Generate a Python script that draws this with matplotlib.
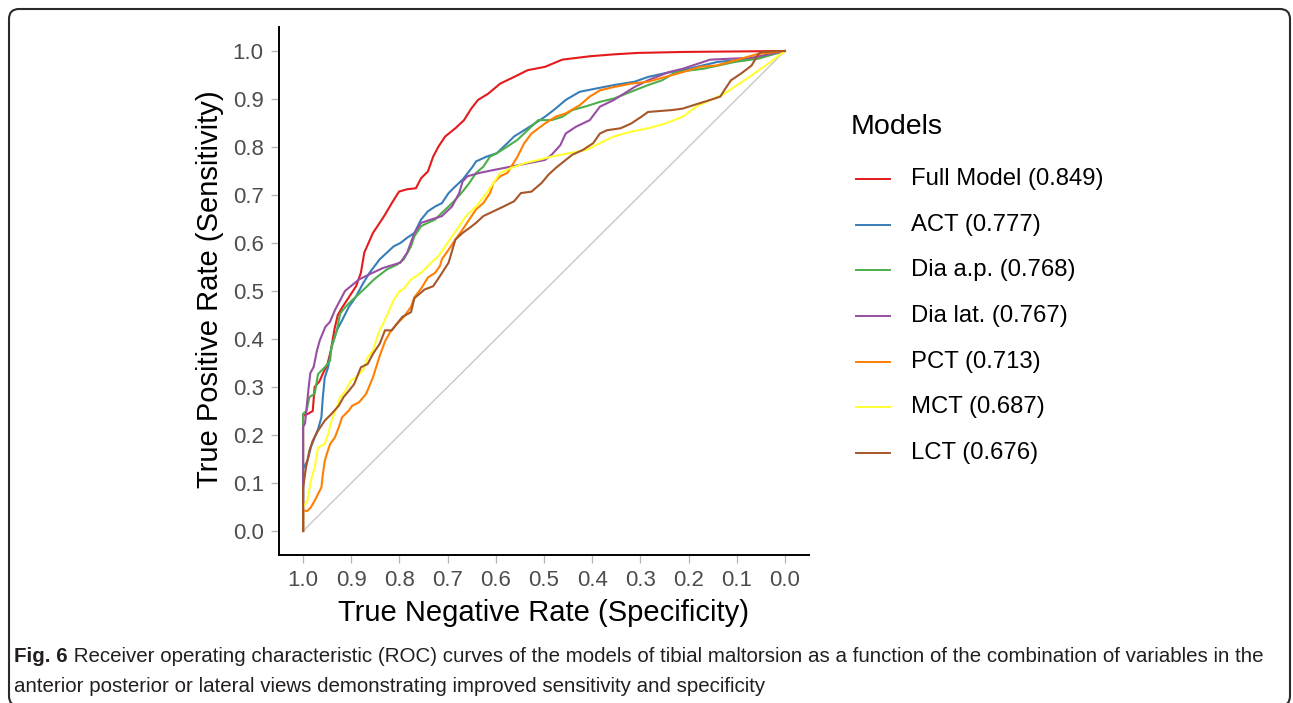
import matplotlib
matplotlib.use("Agg")
import matplotlib.pyplot as plt
from matplotlib.patches import FancyBboxPatch
from matplotlib.lines import Line2D
from matplotlib.transforms import IdentityTransform
from matplotlib import font_manager

# ---------------- data ----------------
models = ["Full Model", "ACT", "Dia a.p.", "Dia lat.", "PCT", "MCT", "LCT"]
aucs = [0.849, 0.777, 0.768, 0.767, 0.713, 0.687, 0.676]
colors = ["#E41A1C", "#377EB8", "#4DAF4A", "#984EA3", "#FF7F00", "#FFFF33", "#A65628"]

full_spec = [1.0, 1.0, 0.990, 0.980, 0.976, 0.966, 0.958, 0.950, 0.942, 0.935, 0.928, 0.918, 0.905, 0.890, 0.880,
             0.873, 0.855, 0.841, 0.830, 0.816, 0.801, 0.784, 0.766, 0.755, 0.741, 0.730, 0.719, 0.705, 0.684, 0.666,
             0.651, 0.637, 0.616, 0.591, 0.562, 0.534, 0.498, 0.462, 0.405, 0.355, 0.305, 0.212, 0.0]
full_sens = [0.0, 0.240, 0.244, 0.250, 0.300, 0.312, 0.330, 0.345, 0.378, 0.420, 0.450, 0.467, 0.487, 0.510, 0.538,
             0.580, 0.621, 0.642, 0.659, 0.683, 0.707, 0.712, 0.714, 0.735, 0.749, 0.780, 0.801, 0.822, 0.839, 0.856,
             0.880, 0.898, 0.911, 0.932, 0.946, 0.960, 0.967, 0.982, 0.989, 0.993, 0.996, 0.998, 1.0]

act_spec = [1.0, 1.0, 0.991, 0.984, 0.976, 0.969, 0.962, 0.959, 0.955, 0.948, 0.941, 0.930, 0.919, 0.905, 0.891,
            0.876, 0.862, 0.841, 0.826, 0.812, 0.798, 0.784, 0.769, 0.755, 0.741, 0.726, 0.712, 0.698, 0.684, 0.669,
            0.648, 0.641, 0.619, 0.598, 0.576, 0.562, 0.541, 0.519, 0.498, 0.476, 0.455, 0.426, 0.391, 0.355, 0.312,
            0.284, 0.248, 0.212, 0.141, 0.069, 0.0]
act_sens = [0.0, 0.130, 0.146, 0.174, 0.195, 0.212, 0.237, 0.279, 0.320, 0.341, 0.383, 0.418, 0.439, 0.467, 0.487,
            0.515, 0.538, 0.566, 0.580, 0.593, 0.600, 0.611, 0.621, 0.649, 0.666, 0.676, 0.683, 0.704, 0.718, 0.732,
            0.759, 0.770, 0.780, 0.787, 0.808, 0.822, 0.835, 0.849, 0.863, 0.880, 0.898, 0.915, 0.922, 0.929, 0.936,
            0.946, 0.954, 0.960, 0.977, 0.984, 1.0]

diaap_spec = [1.0, 1.0, 0.993, 0.987, 0.976, 0.969, 0.955, 0.944, 0.941, 0.930, 0.923, 0.912, 0.898, 0.884, 0.869,
              0.855, 0.848, 0.826, 0.805, 0.791, 0.776, 0.769, 0.755, 0.741, 0.726, 0.712, 0.698, 0.684, 0.669, 0.655,
              0.641, 0.626, 0.612, 0.598, 0.576, 0.555, 0.534, 0.512, 0.484, 0.462, 0.441, 0.412, 0.384, 0.355, 0.312,
              0.284, 0.255, 0.226, 0.169, 0.105, 0.055, 0.0]
diaap_sens = [0.0, 0.244, 0.250, 0.279, 0.286, 0.327, 0.341, 0.355, 0.383, 0.418, 0.453, 0.467, 0.481, 0.494, 0.508,
              0.522, 0.528, 0.545, 0.555, 0.566, 0.593, 0.614, 0.635, 0.642, 0.649, 0.663, 0.676, 0.690, 0.707, 0.725,
              0.746, 0.759, 0.780, 0.787, 0.801, 0.815, 0.835, 0.856, 0.856, 0.863, 0.877, 0.885, 0.894, 0.901, 0.918,
              0.929, 0.939, 0.956, 0.963, 0.977, 0.984, 1.0]

dialat_spec = [1.0, 1.0, 0.996, 0.989, 0.985, 0.978, 0.971, 0.965, 0.954, 0.944, 0.934, 0.923, 0.913, 0.901, 0.884,
               0.862, 0.834, 0.798, 0.784, 0.769, 0.755, 0.734, 0.712, 0.691, 0.676, 0.669, 0.659, 0.634, 0.605, 0.569,
               0.534, 0.498, 0.484, 0.466, 0.455, 0.434, 0.405, 0.384, 0.355, 0.312, 0.284, 0.241, 0.212, 0.155, 0.069,
               0.0]
dialat_sens = [0.0, 0.217, 0.224, 0.294, 0.329, 0.342, 0.377, 0.398, 0.425, 0.436, 0.460, 0.481, 0.500, 0.510, 0.524,
               0.535, 0.548, 0.559, 0.580, 0.621, 0.642, 0.649, 0.656, 0.676, 0.704, 0.728, 0.739, 0.746, 0.752, 0.759,
               0.766, 0.773, 0.784, 0.804, 0.828, 0.842, 0.856, 0.884, 0.898, 0.925, 0.939, 0.956, 0.963, 0.982, 0.986,
               1.0]

pct_spec = [1.0, 1.0, 0.991, 0.984, 0.976, 0.969, 0.962, 0.959, 0.955, 0.951, 0.944, 0.934, 0.926, 0.919, 0.905,
            0.898, 0.884, 0.869, 0.855, 0.841, 0.830, 0.819, 0.805, 0.791, 0.776, 0.769, 0.755, 0.741, 0.726, 0.716,
            0.712, 0.698, 0.684, 0.669, 0.655, 0.641, 0.626, 0.612, 0.605, 0.591, 0.576, 0.555, 0.541, 0.526, 0.498,
            0.476, 0.455, 0.426, 0.405, 0.384, 0.355, 0.319, 0.284, 0.248, 0.212, 0.176, 0.141, 0.098, 0.055, 0.0]
pct_sens = [0.0, 0.042, 0.042, 0.049, 0.063, 0.077, 0.091, 0.118, 0.146, 0.160, 0.181, 0.195, 0.216, 0.237, 0.251,
            0.261, 0.268, 0.286, 0.320, 0.365, 0.395, 0.415, 0.432, 0.446, 0.467, 0.487, 0.505, 0.528, 0.538, 0.552,
            0.566, 0.586, 0.607, 0.628, 0.649, 0.670, 0.683, 0.704, 0.725, 0.739, 0.746, 0.780, 0.808, 0.828, 0.849,
            0.863, 0.870, 0.887, 0.905, 0.918, 0.925, 0.932, 0.936, 0.946, 0.956, 0.967, 0.970, 0.982, 0.994, 1.0]

mct_spec = [1.0, 1.0, 0.991, 0.984, 0.976, 0.969, 0.955, 0.948, 0.941, 0.930, 0.923, 0.912, 0.901, 0.891, 0.876,
            0.866, 0.855, 0.844, 0.834, 0.823, 0.812, 0.801, 0.791, 0.776, 0.755, 0.734, 0.719, 0.705, 0.691, 0.676,
            0.662, 0.641, 0.619, 0.605, 0.591, 0.569, 0.541, 0.512, 0.484, 0.448, 0.412, 0.384, 0.355, 0.319, 0.284,
            0.248, 0.212, 0.184, 0.148, 0.126, 0.084, 0.034, 0.0]
mct_sens = [0.0, 0.050, 0.063, 0.104, 0.132, 0.174, 0.181, 0.202, 0.230, 0.258, 0.279, 0.292, 0.313, 0.320, 0.334,
            0.362, 0.376, 0.411, 0.432, 0.456, 0.481, 0.498, 0.505, 0.524, 0.538, 0.559, 0.573, 0.593, 0.614, 0.635,
            0.656, 0.676, 0.704, 0.725, 0.746, 0.756, 0.766, 0.773, 0.780, 0.787, 0.794, 0.808, 0.822, 0.832, 0.839,
            0.849, 0.863, 0.884, 0.901, 0.911, 0.939, 0.974, 1.0]

lct_spec = [1.0, 1.0, 0.994, 0.987, 0.980, 0.969, 0.955, 0.941, 0.926, 0.916, 0.905, 0.894, 0.880, 0.866, 0.855,
            0.841, 0.830, 0.816, 0.805, 0.794, 0.776, 0.769, 0.748, 0.730, 0.716, 0.698, 0.684, 0.669, 0.655, 0.641,
            0.626, 0.605, 0.584, 0.562, 0.548, 0.526, 0.505, 0.491, 0.476, 0.455, 0.441, 0.419, 0.398, 0.384, 0.369,
            0.341, 0.319, 0.298, 0.284, 0.234, 0.212, 0.184, 0.155, 0.134, 0.126, 0.112, 0.091, 0.069, 0.055, 0.048,
            0.0]
lct_sens = [0.0, 0.090, 0.132, 0.167, 0.188, 0.209, 0.230, 0.244, 0.261, 0.279, 0.292, 0.306, 0.341, 0.348, 0.369,
            0.390, 0.418, 0.418, 0.432, 0.446, 0.456, 0.485, 0.503, 0.510, 0.531, 0.559, 0.607, 0.621, 0.631, 0.642,
            0.656, 0.666, 0.676, 0.687, 0.704, 0.707, 0.725, 0.742, 0.756, 0.773, 0.784, 0.794, 0.808, 0.828, 0.835,
            0.839, 0.849, 0.863, 0.873, 0.877, 0.880, 0.889, 0.898, 0.905, 0.918, 0.939, 0.953, 0.970, 0.994, 0.998,
            1.0]

spec_list = [full_spec, act_spec, diaap_spec, dialat_spec, pct_spec, mct_spec, lct_spec]
sens_list = [full_sens, act_sens, diaap_sens, dialat_sens, pct_sens, mct_sens, lct_sens]

tick_values = [1.0, 0.9, 0.8, 0.7, 0.6, 0.5, 0.4, 0.3, 0.2, 0.1, 0.0]
tick_labels = ["1.0", "0.9", "0.8", "0.7", "0.6", "0.5", "0.4", "0.3", "0.2", "0.1", "0.0"]

caption_bold = "Fig. 6"
caption_line1 = " Receiver operating characteristic (ROC) curves of the models of tibial maltorsion as a function of the combination of variables in the"
caption_line2 = "anterior posterior or lateral views demonstrating improved sensitivity and specificity"

# ---------------- figure ----------------
W, H = 1293, 703
fig = plt.figure(figsize=(W / 100, H / 100), dpi=100)
fig.patch.set_facecolor("white")

main_font = ["Liberation Sans", "DejaVu Sans"]
plt.rcParams["font.family"] = main_font

def fx(px):
    return px / W

def fy(py):
    return 1 - py / H

ax = fig.add_axes([fx(279), fy(555), (809 - 279) / W, (555 - 27) / H])
ax.set_xlim(1.05, -0.05)
ax.set_ylim(-0.05, 1.05)

ax.plot([1.0, 0.0], [0.0, 1.0], color="#c8c8c8", lw=1.0, zorder=1)
for spec, sens, col in zip(spec_list, sens_list, colors):
    ax.plot(spec, sens, color=col, lw=1.5, zorder=2, solid_joinstyle="miter")

ax.set_xticks(tick_values)
ax.set_xticklabels(tick_labels)
ax.set_yticks(tick_values[::-1])
ax.set_yticklabels(tick_labels[::-1])
ax.tick_params(axis="both", length=5.5, width=0.9, color="#b3b3b3", labelsize=16,
               labelcolor="#4d4d4d", pad=5.5)
for side in ["top", "right"]:
    ax.spines[side].set_visible(False)
for side in ["left", "bottom"]:
    ax.spines[side].set_linewidth(1.4)
    ax.spines[side].set_color("black")

ax.set_xlabel("True Negative Rate (Specificity)", fontsize=21, color="black")
ax.set_ylabel("True Positive Rate (Sensitivity)", fontsize=21, color="black")
ax.xaxis.label.set_va("center")
ax.yaxis.label.set_va("center")
ax.xaxis.set_label_coords(0.5, (555 - 613) / 528)
ax.yaxis.set_label_coords((210 - 279) / 530, (555 - 289) / 528)

# ---------------- legend ----------------
fig.text(fx(851), fy(127), "Models", fontsize=20.5, va="center", ha="left", color="black")
row0, dy = 179, 45.67
for i, (name, auc, col) in enumerate(zip(models, aucs, colors)):
    yy = row0 + i * dy
    fig.add_artist(Line2D([fx(856), fx(890)], [fy(yy), fy(yy)], color=col, lw=1.4,
                          transform=fig.transFigure))
    fig.text(fx(911), fy(yy), f"{name} ({auc:.3f})", fontsize=17.2, va="center", ha="left",
             color="black")

# ---------------- caption ----------------
cap_family = ["Liberation Sans"]
try:
    font_manager.findfont("Liberation Sans Narrow", fallback_to_default=False)
    cap_family = ["Liberation Sans Narrow", "Liberation Sans"]
except Exception:
    pass

fig.canvas.draw()
r = fig.canvas.get_renderer()
fs = 13
tb = fig.text(fx(14), fy(657), caption_bold, fontsize=fs, weight="bold", va="center", ha="left",
              family=cap_family, color="#231f20")
tr = fig.text(fx(14), fy(657), caption_line1, fontsize=fs, va="center", ha="left",
              family=cap_family, color="#231f20")
t2 = fig.text(fx(14), fy(687), caption_line2, fontsize=fs, va="center", ha="left",
              family=cap_family, color="#231f20")
for _ in range(3):
    wb = tb.get_window_extent(r).width
    wr = tr.get_window_extent(r).width
    total = wb + wr
    fs = fs * (1262 - 14) / total
    for t in (tb, tr, t2):
        t.set_fontsize(fs)
    wb = tb.get_window_extent(r).width
    tr.set_position((fx(14 + wb), fy(657)))

# ---------------- border ----------------
border = FancyBboxPatch((9, H - 706), 1290 - 9, 706 - 9,
                        boxstyle="round,pad=0,rounding_size=10",
                        transform=IdentityTransform(), fill=False,
                        edgecolor="#2b2b2b", lw=1.5)
fig.add_artist(border)

fig.savefig("out.png", dpi=100)
